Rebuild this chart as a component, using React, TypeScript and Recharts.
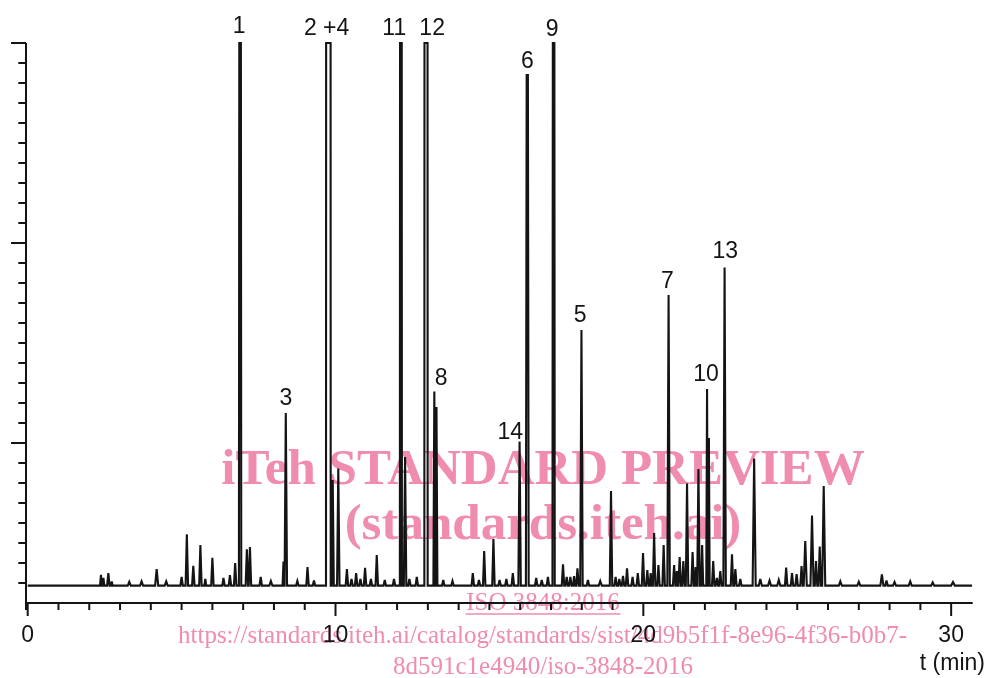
import React from 'react';
import { LineChart, Line, XAxis, YAxis, ReferenceDot, ReferenceLine, Label } from 'recharts';

// ---- data ----
const BASELINE = -0.13;
const TRACE_START = 0;
const TRACE_END = 30.68;

// [retention time (min), apex level (axis units), half base width (min), flat-top width (min)]
const peaks: [number, number, number, number][] = [
  [2.38, 0.41, 0.03, 0],
  [2.46, 0.25, 0.03, 0],
  [2.62, 0.49, 0.04, 0],
  [2.73, 0.08, 0.03, 0],
  [3.3, 0.06, 0.05, 0],
  [3.7, 0.08, 0.05, 0],
  [4.19, 0.7, 0.05, 0],
  [4.5, 0.08, 0.05, 0],
  [5.0, 0.3, 0.04, 0],
  [5.17, 2.43, 0.04, 0],
  [5.38, 0.86, 0.04, 0],
  [5.61, 1.9, 0.04, 0],
  [5.77, 0.2, 0.03, 0],
  [6.0, 1.26, 0.04, 0],
  [6.36, 0.25, 0.04, 0],
  [6.57, 0.4, 0.04, 0],
  [6.74, 1.0, 0.04, 0],
  [6.9, 27, 0.012, 0.052],
  [7.12, 1.69, 0.04, 0],
  [7.22, 1.8, 0.04, 0],
  [7.57, 0.3, 0.04, 0],
  [7.9, 0.1, 0.05, 0],
  [8.31, 1.07, 0.03, 0],
  [8.385, 8.5, 0.04, 0],
  [8.76, 0.1, 0.04, 0],
  [9.09, 0.8, 0.04, 0],
  [9.3, 0.12, 0.04, 0],
  [9.7675, 27, 0.004, 0.145],
  [9.91, 5.15, 0.035, 0],
  [10.09, 5.73, 0.04, 0],
  [10.37, 0.7, 0.04, 0],
  [10.52, 0.2, 0.04, 0],
  [10.67, 0.5, 0.04, 0],
  [10.81, 0.2, 0.04, 0],
  [10.96, 0.76, 0.04, 0],
  [11.15, 0.2, 0.04, 0],
  [11.34, 1.4, 0.04, 0],
  [11.6, 0.15, 0.04, 0],
  [11.9, 0.2, 0.04, 0],
  [12.124, 27, 0.006, 0.055],
  [12.26, 6.3, 0.04, 0],
  [12.4, 0.2, 0.04, 0],
  [12.64, 0.3, 0.04, 0],
  [12.94, 27, 0.004, 0.1],
  [13.21, 9.57, 0.03, 0],
  [13.28, 8.8, 0.03, 0],
  [13.5, 0.15, 0.04, 0],
  [13.8, 0.1, 0.04, 0],
  [14.46, 0.5, 0.04, 0],
  [14.66, 0.15, 0.04, 0],
  [14.83, 1.6, 0.04, 0],
  [15.13, 2.2, 0.04, 0],
  [15.33, 0.15, 0.04, 0],
  [15.55, 0.2, 0.04, 0],
  [15.76, 0.5, 0.04, 0],
  [15.98, 7.07, 0.04, 0],
  [16.23, 25.4, 0.025, 0.04],
  [16.52, 0.25, 0.04, 0],
  [16.7, 0.15, 0.04, 0],
  [16.9, 0.3, 0.04, 0],
  [17.085, 27, 0.012, 0.05],
  [17.39, 0.94, 0.04, 0],
  [17.51, 0.3, 0.04, 0],
  [17.63, 0.3, 0.04, 0],
  [17.75, 0.35, 0.035, 0],
  [17.86, 0.73, 0.04, 0],
  [17.99, 12.65, 0.04, 0],
  [18.2, 0.15, 0.04, 0],
  [18.6, 0.1, 0.05, 0],
  [18.95, 4.6, 0.04, 0],
  [19.1, 0.3, 0.04, 0],
  [19.22, 0.2, 0.04, 0],
  [19.34, 0.35, 0.04, 0],
  [19.47, 0.73, 0.04, 0],
  [19.65, 0.3, 0.04, 0],
  [19.82, 0.5, 0.04, 0],
  [19.99, 1.5, 0.04, 0],
  [20.13, 0.65, 0.04, 0],
  [20.24, 0.5, 0.035, 0],
  [20.35, 2.5, 0.04, 0],
  [20.49, 0.9, 0.04, 0],
  [20.66, 1.9, 0.04, 0],
  [20.82, 14.4, 0.04, 0],
  [21.0, 0.9, 0.04, 0],
  [21.09, 0.6, 0.035, 0],
  [21.18, 1.3, 0.04, 0],
  [21.3, 1.1, 0.04, 0],
  [21.42, 4.98, 0.04, 0],
  [21.6, 1.55, 0.04, 0],
  [21.7, 0.8, 0.03, 0],
  [21.79, 5.7, 0.04, 0],
  [21.91, 1.9, 0.035, 0],
  [22.07, 9.7, 0.025, 0],
  [22.13, 7.25, 0.025, 0],
  [22.27, 1.1, 0.04, 0],
  [22.39, 0.25, 0.04, 0],
  [22.5, 0.6, 0.04, 0],
  [22.64, 15.78, 0.04, 0],
  [22.88, 1.44, 0.04, 0],
  [22.99, 0.7, 0.04, 0],
  [23.15, 0.2, 0.04, 0],
  [23.6, 6.23, 0.05, 0],
  [23.8, 0.2, 0.05, 0],
  [24.1, 0.12, 0.05, 0],
  [24.4, 0.15, 0.05, 0],
  [24.64, 0.77, 0.04, 0],
  [24.83, 0.5, 0.04, 0],
  [24.98, 0.45, 0.04, 0],
  [25.14, 0.85, 0.04, 0],
  [25.26, 2.1, 0.05, 0],
  [25.48, 3.37, 0.05, 0],
  [25.61, 1.1, 0.04, 0],
  [25.73, 1.82, 0.04, 0],
  [25.86, 4.85, 0.05, 0],
  [26.4, 0.08, 0.05, 0],
  [27.0, 0.06, 0.05, 0],
  [27.75, 0.43, 0.05, 0],
  [27.9, 0.12, 0.04, 0],
  [28.16, 0.05, 0.05, 0],
  [28.67, 0.08, 0.05, 0],
  [29.4, 0.03, 0.05, 0],
  [30.06, 0.05, 0.06, 0],
];

const peakLabels = ['1', '2 +4', '11', '12', '9', '6', '5', '7', '13', '10', '14', '8', '3'];
const labelTimes = [6.87, 9.71, 11.91, 13.14, 17.04, 16.23, 17.95, 20.78, 22.66, 22.04, 15.68, 13.43, 8.39];
const labelLevels = [27.9, 27.8, 27.83, 27.83, 27.75, 26.15, 13.45, 15.15, 16.65, 10.5, 7.6, 10.3, 9.3];

const xTicks = [0, 1, 2, 3, 4, 5, 6, 7, 8, 9, 10, 11, 12, 13, 14, 15, 16, 17, 18, 19, 20, 21, 22, 23, 24, 25, 26, 27, 28, 29, 30];
const xMajor = [0, 10, 20, 30];
const yTicks = [0, 1, 2, 3, 4, 5, 6, 7, 8, 9, 10, 11, 12, 13, 14, 15, 16, 17, 18, 19, 20, 21, 22, 23, 24, 25, 26, 27];
const yMajor = [7, 17, 27];
const X_DOMAIN: [number, number] = [-0.055, 30.7];
const Y_DOMAIN: [number, number] = [-1, 27];

// ---- build the trace table from the peak list ----
const trace: { t: number; v: number }[] = [{ t: TRACE_START, v: BASELINE }];
peaks.forEach(([t, h, w, p]) => {
  trace.push({ t: t - p / 2 - w, v: BASELINE });
  trace.push({ t: t - p / 2, v: h });
  if (p > 0) trace.push({ t: t + p / 2, v: h });
  trace.push({ t: t + p / 2 + w, v: BASELINE });
});
trace.push({ t: TRACE_END, v: BASELINE });

const INK = '#141414';
const SANS = '"Liberation Sans", Arial, Helvetica, sans-serif';
const SERIF = '"Liberation Serif", "Times New Roman", serif';
const PINK = '#EF8CAF';

const XTick = (props: any) => {
  const { x, y, payload } = props;
  const major = xMajor.includes(payload.value);
  return (
    <g>
      <line x1={x} y1={y} x2={x} y2={y + (major ? 13 : 7)} stroke={INK} strokeWidth={2} />
      {major && (
        <text x={x} y={y + 38.7} textAnchor="middle" fontSize={23} fontFamily={SANS} fill={INK}>
          {payload.value}
        </text>
      )}
    </g>
  );
};

const YTick = (props: any) => {
  const { x, y, payload } = props;
  const major = yMajor.includes(payload.value);
  return <line x1={x - (major ? 15 : 7.7)} y1={y} x2={x} y2={y} stroke={INK} strokeWidth={2} />;
};

const AxisTitle = (props: any) => {
  const vb = props.viewBox || { x: 0, y: 0, width: 0, height: 0 };
  return (
    <text x={vb.x + vb.width + 12.3} y={vb.y + 67} textAnchor="end" fontSize={23} fontFamily={SANS} fill={INK}>
      t (min)
    </text>
  );
};

const Watermark = () => (
  <svg width={987} height={678} style={{ position: 'absolute', left: 0, top: 0, zIndex: 0 }}>
    <g fill={PINK} fontFamily={SERIF} textAnchor="middle">
      <text x={543} y={484} fontSize={51} fontWeight="bold">iTeh STANDARD PREVIEW</text>
      <text x={543} y={539} fontSize={51} fontWeight="bold">(standards.iteh.ai)</text>
      <text x={543} y={610} fontSize={25}>ISO 3848:2016</text>
      <text x={542.5} y={643} fontSize={25}>https://standards.iteh.ai/catalog/standards/sist/4d9b5f1f-8e96-4f36-b0b7-</text>
      <text x={543} y={674} fontSize={25}>8d591c1e4940/iso-3848-2016</text>
    </g>
    <line x1={465.5} x2={620.5} y1={614} y2={614} stroke={PINK} strokeWidth={1.5} />
  </svg>
);

export default function App() {
  return (
    <div style={{ position: 'fixed', left: 0, top: 0, width: 987, height: 678, overflow: 'hidden' }}>
      <Watermark />
      <div style={{ position: 'absolute', left: 0, top: 0, width: 987, height: 678, zIndex: 1 }}>
        <LineChart width={987} height={678} data={trace} margin={{ top: 43, right: 14.3, left: 0, bottom: 0 }}>
          <XAxis
            dataKey="t"
            type="number"
            domain={X_DOMAIN}
            ticks={xTicks}
            interval={0}
            tick={<XTick />}
            tickLine={false}
            tickSize={0}
            tickMargin={0}
            axisLine={{ stroke: INK, strokeWidth: 2 }}
            height={75}
            label={<Label content={<AxisTitle />} />}
          />
          <YAxis
            type="number"
            domain={Y_DOMAIN}
            ticks={yTicks}
            interval={0}
            tick={<YTick />}
            tickLine={false}
            tickSize={0}
            tickMargin={0}
            width={26}
            axisLine={{ stroke: INK, strokeWidth: 2 }}
          />
          <ReferenceLine
            segment={[{ x: X_DOMAIN[0], y: -1 }, { x: X_DOMAIN[0], y: -1.35 }]}
            stroke={INK}
            strokeWidth={2}
            ifOverflow="visible"
          />
          <Line
            type="linear"
            dataKey="v"
            stroke={INK}
            strokeWidth={2.1}
            dot={false}
            activeDot={false}
            isAnimationActive={false}
          />
          {peakLabels.map((lab, i) => (
            <ReferenceDot
              key={lab}
              x={labelTimes[i]}
              y={labelLevels[i]}
              r={0}
              fill="none"
              stroke="none"
              ifOverflow="visible"
              label={<Label value={lab} position="center" fontSize={23} fontFamily={SANS} fill={INK} />}
            />
          ))}
        </LineChart>
      </div>
    </div>
  );
}
